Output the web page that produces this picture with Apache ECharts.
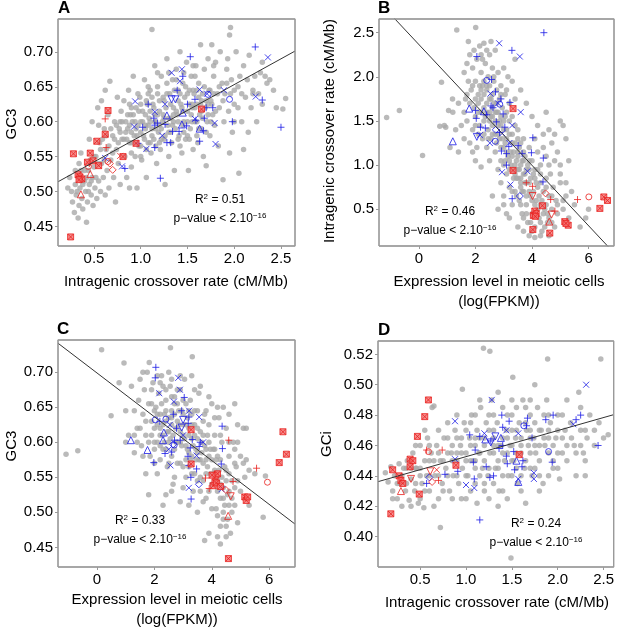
<!DOCTYPE html>
<html>
<head>
<meta charset="utf-8">
<script src="https://cdn.jsdelivr.net/npm/echarts@6/dist/echarts.min.js"></script>
<style>
  html, body { margin: 0; padding: 0; background: #fff; }
  #chart { width: 617px; height: 627px; }
</style>
</head>
<body>
<div id="chart"></div>
<script>
// ---- data ----
// panel A: crossover rate vs GC3
const aXRange = [0.115, 2.65];
const aYRange = [0.422, 0.747];
const aXTicks = [0.5, 1.0, 1.5, 2.0, 2.5];
const aYTicks = [0.45, 0.50, 0.55, 0.60, 0.65, 0.70];
const aFit = [0.5055, 0.0738]; // intercept, slope
const aGray = [
  [0.22,0.505],[0.24,0.52],[0.26,0.50],[0.27,0.485],[0.29,0.47],[0.30,0.51],[0.31,0.495],[0.33,0.462],[0.34,0.48],[0.35,0.505],
  [0.36,0.53],[0.37,0.49],[0.38,0.475],[0.40,0.515],[0.41,0.50],[0.42,0.456],[0.43,0.485],[0.44,0.53],[0.45,0.51],[0.46,0.545],
  [0.47,0.495],[0.48,0.52],[0.49,0.48],[0.50,0.535],[0.51,0.505],[0.52,0.55],[0.53,0.49],[0.54,0.62],[0.55,0.515],[0.56,0.57],
  [0.57,0.50],[0.58,0.54],[0.60,0.52],[0.61,0.59],[0.62,0.495],[0.63,0.56],[0.64,0.53],[0.65,0.61],[0.66,0.505],[0.67,0.658],
  [0.68,0.545],[0.70,0.58],[0.71,0.52],[0.72,0.60],[0.73,0.485],[0.74,0.56],[0.75,0.635],[0.76,0.54],[0.77,0.59],[0.78,0.51],
  [0.79,0.615],[0.80,0.575],[0.36,0.555],[0.45,0.575],[0.48,0.60],[0.55,0.595],[0.58,0.63],[0.62,0.645],
  [0.82,0.63],[0.83,0.55],[0.84,0.60],[0.85,0.52],[0.86,0.59],[0.87,0.645],[0.88,0.57],[0.89,0.61],[0.90,0.535],[0.91,0.60],
  [0.92,0.665],[0.93,0.58],[0.94,0.55],[0.95,0.62],[0.96,0.505],[0.97,0.595],[0.98,0.565],[0.99,0.635],[1.00,0.60],[1.01,0.545],
  [1.02,0.615],[1.03,0.58],[1.04,0.66],[1.05,0.59],[1.06,0.52],[1.07,0.625],[1.08,0.57],[1.09,0.605],[1.10,0.645],[1.11,0.555],
  [1.12,0.732],[1.12,0.59],[1.13,0.625],[1.14,0.575],[1.15,0.68],[1.16,0.60],[1.17,0.54],[1.18,0.64],[1.19,0.585],[1.20,0.615],
  [1.21,0.56],[1.22,0.665],[1.23,0.60],[1.24,0.635],[1.25,0.575],[1.26,0.51],[1.27,0.62],[1.28,0.69],[1.29,0.595],[1.30,0.55],
  [0.85,0.575],[0.90,0.585],[0.95,0.57],[1.00,0.625],[1.05,0.61],[1.10,0.60],[1.15,0.61],[1.20,0.595],[1.25,0.63],[0.90,0.62],
  [0.97,0.64],[1.08,0.65],[1.18,0.67],[1.28,0.655],[1.06,0.56],[1.16,0.565],[1.22,0.575],[0.88,0.505],[1.00,0.565],[1.12,0.635],
  [1.31,0.64],[1.32,0.605],[1.33,0.57],[1.34,0.66],[1.35,0.62],[1.36,0.53],[1.37,0.59],[1.38,0.675],[1.39,0.61],[1.40,0.645],
  [1.41,0.58],[1.42,0.70],[1.43,0.625],[1.44,0.555],[1.45,0.655],[1.46,0.60],[1.47,0.635],[1.48,0.575],[1.49,0.685],[1.50,0.615],
  [1.51,0.53],[1.52,0.645],[1.53,0.59],[1.54,0.665],[1.55,0.62],[1.56,0.56],[1.57,0.64],[1.58,0.60],[1.59,0.68],[1.60,0.625],
  [1.61,0.57],[1.62,0.655],[1.63,0.61],[1.64,0.71],[1.65,0.59],[1.66,0.64],[1.67,0.55],[1.68,0.675],[1.69,0.62],[1.70,0.537],
  [1.71,0.60],[1.72,0.69],[1.73,0.645],[1.74,0.58],[1.75,0.63],[1.76,0.71],[1.77,0.61],[1.78,0.665],[1.79,0.595],[1.80,0.685],
  [1.82,0.64],[1.83,0.565],[1.84,0.62],[1.85,0.70],[1.87,0.655],[1.88,0.517],[1.89,0.60],[1.35,0.60],[1.45,0.595],[1.55,0.60],
  [1.65,0.615],[1.40,0.63],[1.50,0.64],[1.60,0.645],[1.32,0.585],[1.42,0.565],[1.52,0.575],[1.62,0.59],[1.72,0.625],[1.46,0.67],
  [1.56,0.68],[1.30,0.67],
  [1.90,0.64],[1.92,0.675],[1.94,0.615],[1.95,0.724],[1.96,0.735],[1.97,0.66],[1.98,0.585],[2.00,0.645],[2.02,0.70],[2.04,0.62],
  [2.05,0.526],[2.06,0.665],[2.08,0.60],[2.10,0.68],[2.12,0.635],[2.14,0.66],[2.16,0.695],[2.18,0.62],[2.20,0.645],[2.22,0.665],
  [2.24,0.60],[2.26,0.64],[2.28,0.67],[2.30,0.625],[2.33,0.665],[2.35,0.655],[2.38,0.66],[2.42,0.645],[2.45,0.62],[2.52,0.618],
  [2.55,0.633],[2.30,0.685],[2.10,0.56],[1.95,0.555],[2.00,0.60],[2.15,0.585],[1.93,0.69],[2.20,0.64],
  [0.30,0.53],[0.32,0.50],[0.34,0.54],[0.38,0.51],[0.40,0.53],[0.42,0.52],[0.44,0.50],[0.47,0.515],[0.50,0.55],[0.52,0.52],
  [0.55,0.54],[0.57,0.56],[0.59,0.575],[0.61,0.545],[0.63,0.58],[0.66,0.565],[0.68,0.59],[0.70,0.555],[0.72,0.575],[0.74,0.595],
  [0.76,0.57],[0.78,0.585],[0.80,0.60],[0.82,0.575],[0.84,0.585],[0.86,0.61],[0.88,0.595],[0.90,0.57],[0.92,0.61],[0.94,0.60],
  [0.96,0.58],[0.98,0.615],[1.00,0.585],[1.02,0.60],[1.04,0.575],[1.06,0.63],[1.08,0.595],[1.10,0.615],[1.12,0.58],[1.14,0.62],
  [1.16,0.59],[1.18,0.61],[1.20,0.63],[1.22,0.59],[1.24,0.61],[1.26,0.58],[1.28,0.64],[1.30,0.605],[1.32,0.625],[1.34,0.595],
  [1.36,0.645],[1.38,0.615],[1.40,0.60],[1.42,0.64],[1.44,0.62],[1.46,0.585],[1.48,0.65],[1.50,0.60],[1.52,0.625],[1.54,0.61],
  [1.56,0.645],[1.58,0.62],[1.60,0.60],[1.62,0.635],[1.64,0.625],[1.66,0.605],[1.68,0.65],[1.70,0.63],[1.72,0.61],[1.74,0.645],
  [1.76,0.625],[1.78,0.64],[1.80,0.615],[1.84,0.65],[1.88,0.63],[1.92,0.655],[1.96,0.64],[2.00,0.625],[2.04,0.65],[2.08,0.64],
  [0.95,0.59],[1.05,0.595],[1.15,0.60],[1.25,0.605],[1.35,0.61],[1.45,0.615],[1.55,0.625],[1.65,0.63],[1.75,0.60],[0.90,0.555],
  [1.00,0.55],[1.10,0.57],[1.20,0.57],[1.30,0.585],[1.40,0.575],[1.50,0.58],[1.60,0.58],[1.70,0.585],[1.18,0.65],[1.38,0.66],
  [1.58,0.665],[1.78,0.68],[1.08,0.64],[0.88,0.625],[0.78,0.60]
];
const aBlue = [
  [1.53,0.693,'p'],[2.225,0.707,'p'],[1.45,0.665,'p'],[1.39,0.645,'p'],[1.08,0.625,'p'],[1.58,0.632,'p'],[1.50,0.625,'p'],[1.70,0.62,'p'],
  [1.77,0.62,'p'],[2.30,0.631,'p'],[1.98,0.60,'p'],[1.68,0.605,'p'],[1.59,0.602,'p'],[2.50,0.592,'p'],[1.14,0.605,'p'],[1.15,0.595,'p'],
  [1.02,0.592,'p'],[1.26,0.596,'p'],[1.34,0.586,'p'],[1.41,0.586,'p'],[1.49,0.594,'p'],[1.63,0.572,'p'],[1.28,0.57,'p'],[1.32,0.57,'p'],
  [1.15,0.563,'p'],[0.97,0.569,'p'],[0.83,0.533,'p'],[1.21,0.519,'p'],[1.67,0.587,'p'],[1.18,0.598,'p'],
  [1.33,0.670,'x'],[1.44,0.675,'x'],[1.42,0.658,'x'],[0.94,0.629,'x'],[1.26,0.625,'x'],[1.63,0.646,'x'],[1.71,0.64,'x'],[1.89,0.645,'x'],
  [2.36,0.692,'x'],[2.23,0.636,'x'],[1.80,0.568,'x'],[1.58,0.604,'x'],[0.93,0.593,'x'],[1.06,0.561,'x'],[1.23,0.58,'x'],[0.80,0.536,'x'],
  [1.79,0.598,'x'],[1.15,0.614,'x'],[0.62,0.548,'x'],
  [1.28,0.609,'u'],[1.44,0.596,'u'],[1.63,0.59,'u'],[1.45,0.613,'u'],
  [1.33,0.632,'d'],[1.37,0.632,'d'],
  [1.72,0.639,'o'],[1.95,0.632,'o']
];
const aRed = [
  [0.25,0.435,'s'],[0.28,0.554,'s'],[0.65,0.616,'s'],[0.62,0.582,'s'],[0.53,0.572,'s'],[0.46,0.555,'s'],[0.43,0.542,'s'],[0.49,0.544,'s'],
  [0.55,0.537,'s'],[0.33,0.524,'s'],[0.35,0.521,'s'],[0.37,0.518,'s'],[0.34,0.517,'s'],[0.95,0.569,'s'],[1.65,0.618,'s'],[0.81,0.55,'s'],
  [0.62,0.604,'p'],[0.63,0.563,'p'],[0.45,0.54,'p'],
  [0.78,0.551,'x'],
  [0.36,0.496,'u'],[0.46,0.525,'u'],
  [0.44,0.536,'o'],[0.65,0.543,'o'],
  [0.70,0.531,'v'],[0.67,0.54,'v']
];

// panel B: expression vs crossover rate
const bXRange = [-1.41, 6.9];
const bYRange = [0.084, 2.655];
const bXTicks = [0, 2, 4, 6];
const bYTicks = [0.5, 1.0, 1.5, 2.0, 2.5];
const bFit = [2.366, -0.342];
const bGray = [
  [-1.14,1.54],[-0.69,1.62],[0.13,1.11],[0.74,1.44],[0.95,1.43],[0.80,1.94],[1.34,2.53],[2.01,2.56],[1.19,1.75],[1.05,1.62],
  [1.6,2.05],[1.7,2.15],[1.75,1.95],[1.8,2.25],[1.85,1.85],[1.9,2.1],[1.95,2.3],[2.0,1.95],[2.05,2.2],[2.1,1.8],
  [2.15,2.35],[2.2,2.05],[2.25,1.9],[2.3,2.38],[2.35,2.15],[2.4,1.85],[2.45,2.0],[2.5,2.25],[2.55,1.75],[2.6,2.1],
  [2.65,1.95],[2.7,2.3],[2.75,1.85],[2.8,2.05],[2.9,1.9],[3.0,2.1],[3.05,1.8],[3.15,2.0],[3.3,1.95],[3.4,2.2],
  [1.65,1.75],[1.8,1.7],[1.95,1.65],[2.1,1.6],[2.2,1.75],[2.3,1.65],[2.4,1.7],[2.5,1.6],[2.6,1.55],[2.65,1.7],
  [2.75,1.6],[2.85,1.75],[2.95,1.65],[3.05,1.55],[3.2,1.7],[3.4,1.75],[3.6,1.85],[3.8,1.7],[4.0,1.55],[4.2,1.45],
  [4.5,1.6],[4.8,1.35],[5.0,1.5],[5.1,1.45],[5.2,1.3],
  [1.3,1.4],[1.5,1.45],[1.6,1.3],[1.7,1.5],[1.8,1.25],[1.9,1.4],[2.0,1.55],[2.05,1.2],[2.15,1.45],[2.25,1.3],
  [2.3,1.5],[2.4,1.2],[2.45,1.4],[2.55,1.3],[2.6,1.45],[2.7,1.15],[2.8,1.35],[2.85,1.5],[2.9,1.2],[3.0,1.4],
  [3.05,1.05],[3.1,1.3],[3.2,1.5],[3.25,1.15],[3.3,1.35],[3.4,1.25],[3.45,1.05],[3.5,1.4],[3.55,1.2],[3.6,1.0],
  [3.7,1.3],[3.75,1.1],[3.8,0.95],[3.9,1.2],[4.0,1.05],[4.1,1.3],[4.2,1.15],[4.3,1.0],[4.4,1.2],[4.5,1.1],
  [4.6,1.0],[4.7,1.25],[4.8,1.05],[5.0,1.0],[5.3,1.05],[2.0,1.05],[2.2,0.98],[2.5,1.05],[1.4,1.15],[1.1,1.2],
  [0.9,1.45],[1.2,1.6],[1.4,1.7],
  [2.8,0.95],[2.9,0.8],[3.0,0.65],[3.1,0.9],[3.2,0.75],[3.3,0.55],[3.35,0.85],[3.4,0.7],[3.5,0.95],[3.55,0.6],
  [3.6,0.8],[3.65,0.45],[3.7,0.7],[3.75,0.9],[3.8,0.55],[3.85,0.35],[3.9,0.8],[3.95,0.65],[4.0,0.45],[4.05,0.9],
  [4.1,0.3],[4.15,0.6],[4.2,0.75],[4.25,0.4],[4.3,0.55],[4.35,0.25],[4.4,0.7],[4.45,0.5],[4.5,0.85],[4.55,0.35],
  [4.6,0.65],[4.65,0.9],[4.7,0.5],[4.75,0.75],[4.8,0.3],[4.85,0.6],[4.9,0.45],[5.0,0.8],[5.1,0.5],[5.2,0.65],
  [5.3,0.4],[5.5,0.55],[5.7,0.3],[5.9,0.4],[6.0,0.5],[3.2,0.4],[3.5,0.3],[3.9,0.2],[4.1,0.18],[4.3,0.2],
  [4.0,0.25],[3.7,0.25],[4.6,0.2],[2.6,0.65],[2.8,0.5],[3.0,0.55],[3.1,0.45],
  [3.0,1.0],[3.2,0.95],[3.4,0.9],[3.6,0.85],[3.8,0.8],[3.3,1.1],[3.5,1.15],[3.7,1.05],[3.9,0.95],[4.1,0.85],
  [4.3,0.8],[3.1,1.15],[2.9,1.05],[3.6,1.25],[2.7,1.35],[2.5,1.5],[2.35,1.55],[2.2,1.6],[2.8,1.6],[2.6,1.8],
  [2.4,1.9],[2.9,1.45],[3.1,1.6],[2.75,1.25],
  [2.0,1.75],[2.1,1.7],[2.2,1.85],[2.3,1.8],[2.4,1.6],[2.5,1.75],[2.55,1.55],[2.6,1.65],[2.7,1.5],[2.75,1.7],
  [2.8,1.45],[2.9,1.55],[2.95,1.3],[3.0,1.5],[3.05,1.25],[3.1,1.4],[3.15,1.1],[3.2,1.35],[3.25,1.0],[3.3,1.25],
  [3.35,1.15],[3.4,1.0],[3.45,0.85],[3.5,1.1],[3.55,0.95],[3.6,0.75],[3.65,1.05],[3.7,0.9],[3.75,0.8],[3.8,0.65],
  [3.85,1.0],[3.9,0.7],[3.95,0.85],[4.0,0.6],[4.05,0.7],[4.1,0.55],[4.15,0.8],[4.2,0.5],[4.25,0.65],[4.3,0.35],
  [4.35,0.6],[4.4,0.45],[4.45,0.3],[4.5,0.55],[4.55,0.45],[4.6,0.4],[4.7,0.35],[3.3,0.7],[3.45,0.65],[3.6,0.55],
  [3.7,0.4],[3.8,0.45],[3.95,0.35],[2.3,1.35],[2.45,1.3],[2.6,1.35],[2.7,1.6],[2.85,1.3],[3.0,1.2],[2.5,1.9],
  [2.3,1.95],[2.15,1.9],[2.65,2.0],[2.9,1.8],[3.1,1.85],[3.3,1.55],[3.4,1.45],[3.5,1.3],[3.7,1.15],[3.9,1.05],
  [4.1,0.95],[4.3,0.9],[4.5,0.75],[4.7,0.65],[4.9,0.55],[5.1,0.6],[5.2,0.8],[5.4,0.7],[5.0,0.9],[4.9,1.15],
  [1.9,1.9],[1.7,1.8],[1.6,1.6],[2.0,1.45],[2.1,1.35],[1.9,1.15],[3.2,1.05],[3.35,0.95],[3.5,0.85],[3.65,0.7],
  [4.2,0.95],[4.4,1.35],[4.6,1.4],[2.2,2.25],[2.4,2.3],[2.55,2.4],[1.75,2.4],[2.25,2.2]
];
const bBlue = [
  [4.42,2.50,'p'],[3.29,2.30,'p'],[2.05,2.23,'p'],[2.57,1.97,'p'],[2.71,1.83,'p'],[2.55,1.67,'p'],[2.90,1.75,'p'],[3.22,1.71,'p'],
  [2.0,1.62,'p'],[2.03,1.53,'p'],[2.18,1.43,'p'],[2.35,1.42,'p'],[2.74,1.49,'p'],[2.98,1.58,'p'],[3.04,1.43,'p'],[2.85,1.37,'p'],
  [3.18,1.21,'p'],[2.92,1.16,'p'],[3.1,1.13,'p'],[3.51,1.22,'p'],[3.65,1.13,'p'],[3.98,1.14,'p'],[4.03,1.31,'p'],[4.40,1.08,'p'],
  [4.39,0.81,'p'],[3.30,0.62,'p'],[3.1,1.0,'p'],[2.62,1.65,'p'],[2.4,1.57,'p'],
  [2.84,2.38,'x'],[3.57,2.23,'x'],[2.53,1.81,'x'],[2.80,1.70,'x'],[3.60,1.60,'x'],[2.16,1.34,'x'],[2.51,1.25,'x'],[3.3,1.45,'x'],
  [2.94,0.92,'x'],[3.84,0.93,'x'],[3.24,0.78,'x'],[3.2,1.25,'x'],[2.95,1.36,'x'],
  [1.20,1.27,'u'],[1.78,1.64,'u'],[2.30,1.61,'u'],
  [2.05,1.32,'d'],
  [2.40,1.96,'o'],[2.86,1.69,'o'],[2.7,1.27,'o'],
  [3.57,0.65,'v'],[2.72,1.40,'v']
];
const bRed = [
  [3.33,1.64,'s'],[3.33,0.94,'s'],[4.10,0.48,'s'],[4.05,0.43,'s'],[4.15,0.45,'s'],[4.12,0.42,'s'],[4.63,0.23,'s'],[4.03,0.27,'s'],
  [4.37,0.54,'s'],[5.16,0.36,'s'],[5.28,0.32,'s'],[5.2,0.34,'s'],[6.40,0.51,'s'],[6.54,0.64,'s'],[6.67,0.60,'s'],
  [3.80,0.80,'p'],[4.02,0.76,'p'],[4.66,0.61,'p'],[4.81,0.48,'p'],[5.61,0.61,'p'],
  [4.61,0.36,'u'],
  [4.02,0.65,'d'],[4.69,0.44,'d'],
  [6.01,0.64,'o'],
  [4.48,0.68,'v']
];

// panel C: expression vs GC3
const cXRange = [-1.36, 6.9];
const cYRange = [0.422, 0.746];
const cXTicks = [0, 2, 4, 6];
const cYTicks = [0.45, 0.50, 0.55, 0.60, 0.65, 0.70];
const cFit = [0.6989, -0.03125];
const cGray = [
  [-1.08,0.583],[-0.67,0.588],[0.16,0.732],[0.94,0.713],[0.77,0.685],[1.0,0.645],[0.49,0.638],[1.3,0.61],[2.56,0.735],[3.32,0.722],
  [1.82,0.714],
  [1.2,0.68],[1.3,0.645],[1.4,0.62],[1.45,0.66],[1.5,0.69],[1.55,0.595],[1.6,0.64],[1.65,0.675],[1.7,0.61],[1.75,0.70],
  [1.8,0.655],[1.85,0.58],[1.9,0.63],[1.95,0.685],[2.0,0.60],[2.05,0.65],[2.1,0.555],[2.15,0.67],[2.2,0.62],[2.25,0.695],
  [2.3,0.59],[2.35,0.64],[2.4,0.66],[2.45,0.565],[2.5,0.615],[2.55,0.68],[2.6,0.635],[2.65,0.54],[2.7,0.655],[2.75,0.60],
  [2.8,0.675],[2.85,0.625],[2.9,0.57],[2.95,0.645],[3.0,0.61],[3.05,0.69],[3.1,0.55],[3.15,0.635],[3.2,0.585],[3.25,0.66],
  [3.3,0.605],[3.35,0.53],[3.4,0.645],[3.45,0.575],[3.5,0.62],[3.55,0.67],[3.6,0.55],[3.65,0.60],[3.7,0.515],[3.75,0.64],
  [3.8,0.575],[3.85,0.61],[3.9,0.53],[3.95,0.59],[4.0,0.655],[4.05,0.555],[4.1,0.61],[4.15,0.505],[4.2,0.58],[4.25,0.635],
  [4.3,0.54],[4.35,0.60],[4.4,0.49],[4.45,0.565],[4.5,0.62],[4.55,0.525],[4.6,0.58],[4.65,0.47],[4.7,0.545],[4.75,0.60],
  [4.8,0.51],[4.85,0.565],[4.9,0.485],[5.0,0.53],[5.1,0.62],[5.15,0.55],[5.2,0.575],[5.3,0.51],[5.5,0.555],[5.79,0.493],
  [5.87,0.552],[4.2,0.465],[4.3,0.455],[3.75,0.46],[3.9,0.47],[4.5,0.48],[3.2,0.51],[2.9,0.515],[2.6,0.53],[2.4,0.525],
  [2.3,0.51],[1.8,0.525],[2.0,0.57],[1.7,0.555],[1.6,0.58],[1.3,0.585],[1.1,0.61],[1.0,0.60],
  [2.2,0.64],[2.4,0.63],[2.6,0.645],[2.8,0.63],[3.0,0.625],[3.2,0.62],[2.5,0.60],[2.7,0.59],[2.9,0.60],[3.1,0.595],
  [3.3,0.58],[3.5,0.585],[2.3,0.61],[2.1,0.625],[2.0,0.645],[2.7,0.665],[2.9,0.675],[3.1,0.655],[3.3,0.64],[3.5,0.645],
  [3.7,0.61],[3.9,0.60],[4.1,0.59],[4.3,0.575],[3.6,0.575],[3.8,0.555],[4.0,0.54],[4.2,0.53],[4.4,0.52],[4.6,0.51],
  [4.7,0.50],[4.4,0.50],[4.5,0.545],[3.4,0.555],[3.2,0.565],[3.0,0.565],[2.8,0.57],[2.6,0.58],[2.4,0.59],[2.2,0.595],
  [4.9,0.60],[4.9,0.625],[5.1,0.57],[4.6,0.64],[4.4,0.65],[4.2,0.65],[3.9,0.665],[2.1,0.695],[2.3,0.68],[2.5,0.70],
  [1.9,0.655],[3.3,0.695],[3.6,0.68],[4.8,0.655],[5.2,0.62],[1.5,0.62],[1.4,0.60],
  [2.0,0.62],[2.1,0.64],[2.2,0.61],[2.25,0.655],[2.3,0.625],[2.35,0.60],[2.4,0.645],[2.45,0.615],[2.5,0.635],[2.55,0.605],
  [2.6,0.625],[2.65,0.61],[2.7,0.64],[2.75,0.62],[2.8,0.60],[2.85,0.645],[2.9,0.615],[2.95,0.595],[3.0,0.64],[3.05,0.605],
  [3.1,0.625],[3.15,0.59],[3.2,0.61],[3.25,0.575],[3.3,0.625],[3.35,0.595],[3.4,0.61],[3.45,0.59],[3.5,0.605],[3.55,0.575],
  [3.6,0.615],[3.65,0.585],[3.7,0.57],[3.75,0.595],[3.8,0.59],[3.85,0.565],[3.9,0.58],[3.95,0.555],[4.0,0.575],[4.05,0.59],
  [4.1,0.56],[4.15,0.575],[4.2,0.545],[4.25,0.56],[4.3,0.52],[4.35,0.55],[4.4,0.535],[4.45,0.51],[4.5,0.56],[4.55,0.49],
  [4.6,0.53],[4.7,0.52],[4.8,0.535],[4.9,0.545],[3.6,0.53],[3.8,0.52],[4.0,0.505],[4.2,0.495],[4.3,0.48],[4.5,0.465],
  [3.5,0.50],[3.0,0.535],[2.7,0.55],[2.5,0.57],[2.2,0.575],[2.0,0.59],[1.8,0.60],[1.7,0.63],[1.9,0.675],[2.2,0.685],
  [2.4,0.675],[2.6,0.665],[2.8,0.655],[3.0,0.66],[3.2,0.645],[3.4,0.625],[3.7,0.63],[3.9,0.625],[4.1,0.635],[4.3,0.61],
  [4.6,0.60],[4.8,0.59],[5.0,0.58],[5.3,0.56],[2.6,0.69],[2.9,0.695],[3.4,0.675],[3.8,0.645],[1.6,0.70],[1.9,0.61],
  [2.1,0.60],[3.1,0.575],[3.3,0.555],[3.5,0.545],[3.7,0.545],[4.6,0.555],[4.8,0.57]
];
const cBlue = [
  [2.05,0.707,'p'],[2.03,0.692,'p'],[3.04,0.664,'p'],[2.95,0.645,'p'],[2.66,0.64,'p'],[2.19,0.63,'p'],[3.18,0.627,'p'],[3.2,0.636,'p'],
  [4.36,0.623,'p'],[2.77,0.62,'p'],[3.32,0.604,'p'],[2.9,0.603,'p'],[2.7,0.603,'p'],[3.56,0.594,'p'],[4.37,0.591,'p'],[2.37,0.584,'p'],
  [2.6,0.586,'p'],[3.25,0.592,'p'],[3.17,0.58,'p'],[3.2,0.567,'p'],[1.98,0.571,'p'],[3.47,0.562,'p'],[3.27,0.55,'p'],[4.33,0.569,'p'],
  [3.28,0.519,'p'],[3.6,0.60,'p'],
  [2.83,0.692,'x'],[2.17,0.67,'x'],[2.89,0.675,'x'],[2.68,0.658,'x'],[3.21,0.645,'x'],[3.56,0.636,'x'],[2.54,0.625,'x'],[3.0,0.61,'x'],
  [2.56,0.567,'x'],[3.47,0.581,'x'],[3.7,0.60,'x'],[3.20,0.535,'x'],[4.34,0.533,'x'],[2.5,0.59,'x'],
  [1.18,0.603,'u'],[1.76,0.589,'u'],[2.33,0.614,'u'],[2.3,0.603,'u'],
  [2.95,0.621,'d'],[3.0,0.632,'d'],
  [2.03,0.632,'o'],[2.40,0.633,'o'],[2.69,0.596,'o'],
  [3.55,0.54,'v'],[2.65,0.597,'v']
];
const cRed = [
  [3.28,0.618,'s'],[3.28,0.569,'s'],[4.14,0.553,'s'],[4.2,0.555,'s'],[4.11,0.543,'s'],[4.05,0.538,'s'],[4.16,0.542,'s'],[4.01,0.553,'s'],
  [4.30,0.537,'s'],[5.15,0.522,'s'],[5.2,0.517,'s'],[5.25,0.522,'s'],[4.58,0.434,'s'],[6.35,0.571,'s'],[6.48,0.615,'s'],[6.60,0.583,'s'],
  [4.59,0.603,'p'],[4.74,0.544,'p'],[5.56,0.563,'p'],[3.78,0.549,'p'],[3.91,0.534,'p'],
  [4.57,0.495,'u'],
  [4.66,0.523,'d'],
  [5.94,0.543,'o'],
  [4.49,0.532,'v']
];

// panel D: crossover rate vs GCi
const dXRange = [0.04, 2.61];
const dYRange = [0.380, 0.5288];
const dXTicks = [0.5, 1.0, 1.5, 2.0, 2.5];
const dYTicks = [0.40, 0.42, 0.44, 0.46, 0.48, 0.50, 0.52];
const dFit = [0.4355, 0.01716];
const dGray = [
  [0.12,0.442],[0.15,0.436],[0.18,0.446],[0.20,0.43],[0.22,0.44],[0.25,0.425],[0.27,0.448],[0.28,0.435],[0.30,0.42],[0.32,0.445],
  [0.34,0.43],[0.36,0.45],[0.38,0.424],[0.40,0.438],[0.42,0.455],[0.44,0.43],[0.46,0.445],[0.48,0.422],[0.50,0.46],[0.52,0.435],
  [0.54,0.419],[0.55,0.45],[0.57,0.44],[0.58,0.465],[0.60,0.43],[0.62,0.455],[0.63,0.485],[0.65,0.486],[0.66,0.44],[0.68,0.46],
  [0.70,0.425],[0.72,0.45],[0.72,0.406],[0.74,0.435],[0.76,0.465],[0.78,0.445],[0.80,0.475],[0.82,0.43],[0.84,0.455],[0.86,0.44],
  [0.88,0.47],[0.90,0.45],[0.92,0.435],[0.94,0.46],[0.96,0.497],[0.96,0.445],[0.98,0.475],[1.00,0.455],[1.02,0.44],[1.04,0.465],
  [1.06,0.48],[1.08,0.45],[1.10,0.435],[1.12,0.422],[1.12,0.47],[1.14,0.455],[1.16,0.485],[1.18,0.445],[1.19,0.524],[1.20,0.46],
  [1.22,0.475],[1.24,0.44],[1.26,0.522],[1.26,0.455],[1.28,0.49],[1.30,0.465],[1.32,0.445],[1.34,0.475],[1.36,0.43],[1.38,0.46],
  [1.40,0.485],[1.42,0.45],[1.44,0.47],[1.46,0.44],[1.48,0.46],[1.49,0.386],[1.50,0.48],[1.51,0.505],[1.52,0.45],[1.54,0.465],
  [1.56,0.435],[1.58,0.475],[1.60,0.455],[1.62,0.49],[1.64,0.445],[1.65,0.422],[1.66,0.47],[1.68,0.46],[1.70,0.48],[1.72,0.44],
  [1.74,0.465],[1.76,0.455],[1.78,0.485],[1.80,0.45],[1.82,0.47],[1.84,0.435],[1.86,0.46],[1.88,0.49],[1.89,0.517],[1.90,0.455],
  [1.92,0.475],[1.95,0.445],[1.98,0.465],[2.00,0.48],[2.02,0.438],[2.05,0.455],[2.08,0.47],[2.10,0.45],[2.14,0.475],[2.18,0.46],
  [2.20,0.44],[2.23,0.495],[2.25,0.47],[2.28,0.455],[2.32,0.465],[2.35,0.48],[2.40,0.47],[2.47,0.517],[2.50,0.465],[2.55,0.467],
  [2.30,0.45],[2.10,0.49],
  [0.85,0.46],[0.90,0.465],[0.95,0.455],[1.00,0.47],[1.05,0.45],[1.10,0.46],[1.15,0.465],[1.20,0.45],[1.25,0.47],[1.30,0.455],
  [1.35,0.46],[1.40,0.465],[1.45,0.455],[1.50,0.47],[1.55,0.455],[1.60,0.465],[1.65,0.45],[1.70,0.465],[1.75,0.475],[1.80,0.46],
  [1.00,0.44],[1.10,0.445],[1.20,0.435],[1.30,0.435],[1.40,0.44],[1.50,0.44],[1.60,0.44],[1.70,0.445],[1.80,0.44],[1.90,0.44],
  [0.90,0.48],[1.10,0.48],[1.30,0.48],[1.50,0.49],[1.70,0.49],[1.90,0.48],[2.00,0.47],[0.70,0.47],[0.60,0.45],[0.80,0.455],
  [1.25,0.425],[1.35,0.42],[1.45,0.425],[1.05,0.43],[0.95,0.425],[0.65,0.42],[0.50,0.425],[0.40,0.42],[0.45,0.445],
  [0.30,0.44],[0.35,0.435],[0.40,0.445],[0.45,0.435],[0.50,0.445],[0.55,0.43],[0.60,0.44],[0.65,0.45],[0.70,0.44],[0.75,0.45],
  [0.80,0.44],[0.85,0.45],[0.90,0.44],[0.95,0.465],[1.00,0.45],[1.05,0.46],[1.10,0.45],[1.15,0.455],[1.20,0.465],[1.25,0.445],
  [1.30,0.47],[1.35,0.45],[1.40,0.455],[1.45,0.465],[1.50,0.45],[1.55,0.47],[1.60,0.46],[1.65,0.475],[1.70,0.455],[1.75,0.46],
  [1.80,0.47],[1.85,0.465],[1.90,0.47],[1.95,0.46],[2.00,0.455],[2.05,0.465],[2.10,0.46],[2.15,0.465],[2.20,0.455],[2.25,0.46],
  [2.30,0.47],[2.40,0.46],[2.45,0.475],[0.75,0.43],[0.85,0.425],[1.15,0.44],[1.35,0.445],[1.55,0.445],[1.75,0.445],[1.95,0.45],
  [1.05,0.475],[1.25,0.48],[1.45,0.48],[1.65,0.485],[1.85,0.48],[2.05,0.48],[2.25,0.485],[1.15,0.49],[1.35,0.495],[1.55,0.485],
  [1.75,0.50],[0.80,0.465],[0.60,0.46],[0.50,0.44],[0.35,0.445],[0.25,0.435],[0.20,0.425],[1.00,0.425],[1.20,0.43],[1.40,0.43],
  [1.60,0.43],[1.80,0.43],[2.00,0.445],[2.30,0.44],[0.55,0.47],[0.45,0.46],[0.70,0.455],[0.90,0.455],[1.10,0.465],[1.30,0.46],
  [1.50,0.46],[1.70,0.47],[1.90,0.465]
];
const dBlue = [
  [2.44,0.46,'p'],[2.25,0.48,'p'],[2.2,0.477,'p'],[1.95,0.480,'p'],[1.87,0.477,'p'],[1.67,0.478,'p'],[1.47,0.476,'p'],[1.39,0.48,'p'],
  [1.40,0.472,'p'],[1.72,0.465,'p'],[1.66,0.473,'p'],[1.4,0.46,'p'],[1.27,0.463,'p'],[1.10,0.457,'p'],[1.04,0.467,'p'],[1.15,0.466,'p'],
  [0.91,0.443,'p'],[0.77,0.441,'p'],[0.57,0.435,'p'],[1.08,0.449,'p'],[1.22,0.446,'p'],[1.26,0.439,'p'],[1.30,0.44,'p'],[1.09,0.438,'p'],
  [1.44,0.453,'p'],[1.45,0.448,'p'],[1.53,0.444,'p'],[1.61,0.446,'p'],[1.52,0.456,'p'],[1.62,0.45,'p'],[1.94,0.449,'p'],[1.15,0.411,'p'],
  [1.36,0.458,'p'],
  [2.31,0.50,'x'],[1.28,0.49,'x'],[0.88,0.476,'x'],[1.44,0.47,'x'],[2.17,0.474,'x'],[1.57,0.468,'x'],[1.20,0.468,'x'],[1.00,0.434,'x'],
  [1.09,0.432,'x'],[1.74,0.442,'x'],[1.74,0.438,'x'],[0.88,0.451,'x'],[1.57,0.438,'x'],
  [1.38,0.465,'u'],[1.21,0.464,'u'],[1.55,0.45,'u'],[1.57,0.436,'u'],
  [1.32,0.466,'d'],[1.27,0.462,'d'],
  [1.90,0.456,'o'],[1.63,0.473,'o'],
  [0.60,0.439,'v']
];
const dRed = [
  [0.59,0.49,'s'],[0.55,0.479,'s'],[0.47,0.466,'s'],[0.39,0.451,'s'],[0.42,0.450,'s'],[0.39,0.446,'s'],[0.20,0.444,'s'],[0.27,0.440,'s'],
  [0.29,0.437,'s'],[0.31,0.435,'s'],[0.18,0.415,'s'],[0.49,0.428,'s'],[0.89,0.447,'s'],[1.58,0.454,'s'],
  [0.74,0.457,'p'],[0.57,0.457,'p'],[0.70,0.437,'p'],
  [0.68,0.444,'x'],
  [0.29,0.430,'u'],
  [0.40,0.438,'d'],[0.61,0.443,'d'],
  [0.59,0.456,'o'],
  [0.63,0.436,'v']
];

// ---- chart ----
const FONT = '"Liberation Sans", Arial, Helvetica, sans-serif';
const GRAY = '#a9a9a9';
const BLUE = '#1c1ce6';
const RED = '#e8201e';
const FRAME = '#9a9a9a';

const SHAPES = {
  p: 'path://M0,5L10,5M5,0L5,10',
  x: 'path://M0,0L10,10M10,0L0,10',
  u: 'path://M5,0L10,9L0,9Z',
  d: 'path://M0,0L10,0L5,9Z',
  o: 'circle',
  v: 'diamond',
  s: 'path://M0,0L10,0L10,10L0,10ZM0,0L10,10M10,0L0,10'
};
const SIZES = { p: 7, x: 6, u: 7, d: 7, o: 6, v: 7, s: 6 };

const panels = [
  { gray: aGray, blue: aBlue, red: aRed, fit: aFit, xr: aXRange, yr: aYRange, xt: aXTicks, yt: aYTicks, xd: 1, yd: 2,
    grid: { left: 58, top: 19, width: 237, height: 227 } },
  { gray: bGray, blue: bBlue, red: bRed, fit: bFit, xr: bXRange, yr: bYRange, xt: bXTicks, yt: bYTicks, xd: 0, yd: 1,
    grid: { left: 379, top: 19, width: 235, height: 227 } },
  { gray: cGray, blue: cBlue, red: cRed, fit: cFit, xr: cXRange, yr: cYRange, xt: cXTicks, yt: cYTicks, xd: 0, yd: 2,
    grid: { left: 58, top: 340, width: 237, height: 227 } },
  { gray: dGray, blue: dBlue, red: dRed, fit: dFit, xr: dXRange, yr: dYRange, xt: dXTicks, yt: dYTicks, xd: 1, yd: 2,
    grid: { left: 378, top: 341, width: 236, height: 226 } }
];

const grids = [], xAxes = [], yAxes = [], series = [];

function axis(i, range, ticks, dec) {
  return {
    gridIndex: i, type: 'value', min: range[0], max: range[1],
    axisLine: { show: false, onZero: false },
    splitLine: { show: false },
    axisTick: { show: true, length: 3, lineStyle: { color: FRAME }, customValues: ticks },
    axisLabel: { customValues: ticks, formatter: v => v.toFixed(dec), color: '#000', fontSize: 15, fontFamily: FONT, margin: 5 }
  };
}

function markerSeries(i, pts, color) {
  const out = [];
  Object.keys(SHAPES).forEach(k => {
    const data = pts.filter(d => d[2] === k).map(d => [d[0], d[1]]);
    if (!data.length) return;
    out.push({
      type: 'scatter', xAxisIndex: i, yAxisIndex: i, data: data, silent: true, z: 3,
      symbol: SHAPES[k], symbolSize: SIZES[k],
      itemStyle: k === 's'
        ? { color: '#f27070', borderColor: color, borderWidth: 1 }
        : { color: 'transparent', borderColor: color, borderWidth: 1 }
    });
  });
  return out;
}

panels.forEach((p, i) => {
  grids.push(Object.assign({ show: true, borderColor: FRAME, borderWidth: 1 }, p.grid));
  xAxes.push(axis(i, p.xr, p.xt, p.xd));
  yAxes.push(axis(i, p.yr, p.yt, p.yd));
  // light frame around the plot region, traced along the axis limits
  const x0 = p.xr[0], x1 = p.xr[1], y0 = p.yr[0], y1 = p.yr[1];
  series.push({
    type: 'line', xAxisIndex: i, yAxisIndex: i, silent: true, z: 6, clip: false,
    symbol: 'none', lineStyle: { color: FRAME, width: 1.3 },
    data: [[x0, y0], [x1, y0], [x1, y1], [x0, y1], [x0, y0]]
  });
  series.push({
    type: 'scatter', xAxisIndex: i, yAxisIndex: i, data: p.gray, silent: true, z: 2,
    symbol: 'circle', symbolSize: 5.5, itemStyle: { color: GRAY }
  });
  series.push(...markerSeries(i, p.blue, BLUE));
  series.push(...markerSeries(i, p.red, RED));
  const a = p.fit[0], b = p.fit[1];
  series.push({
    type: 'line', xAxisIndex: i, yAxisIndex: i, silent: true, z: 5, clip: true,
    symbol: 'none', lineStyle: { color: '#333', width: 1 },
    data: [[x0, a + b * x0], [x1, a + b * x1]]
  });
});

// text: letters, axis titles, fit statistics
function txt(x, y, text, opt) {
  return {
    type: 'text', x: x, y: y, silent: true,
    style: Object.assign({ text: text, fill: '#000', font: '15px ' + FONT, align: 'center', verticalAlign: 'middle' }, opt || {})
  };
}
function rotTxt(x, y, text) {
  const t = txt(x, y, text);
  t.rotation = Math.PI / 2;
  return t;
}
function stat(x, y, r2) {
  const rich = {
    a: { fontSize: 12, fontFamily: FONT, lineHeight: 14 },
    s: { fontSize: 8, fontFamily: FONT, lineHeight: 14, verticalAlign: 'top', padding: [0, 0, 6, 0] }
  };
  return [
    { type: 'text', x: x, y: y, silent: true,
      style: { text: '{a|R}{s|2}{a| = ' + r2 + '}', rich: rich, fill: '#000', align: 'center', verticalAlign: 'middle' } },
    { type: 'text', x: x, y: y + 19, silent: true,
      style: { text: '{a|p\u2212value < 2.10}{s|\u221216}', rich: rich, fill: '#000', align: 'center', verticalAlign: 'middle' } }
  ];
}
const letterStyle = { font: 'bold 17px ' + FONT, align: 'left' };

const graphic = [
  txt(58, 8, 'A', letterStyle), txt(378, 8, 'B', letterStyle),
  txt(57, 329, 'C', letterStyle), txt(378, 330, 'D', letterStyle),
  txt(176, 282, 'Intragenic crossover rate (cM/Mb)'),
  rotTxt(12, 124, 'GC3'),
  txt(499, 292, 'Expression level in meiotic cells\n(log(FPKM))', { lineHeight: 20 }),
  rotTxt(330, 131, 'Intragenic crossover rate (cM/Mb)'),
  txt(177, 610, 'Expression level in meiotic cells\n(log(FPKM))', { lineHeight: 20 }),
  rotTxt(12, 446, 'GC3'),
  txt(497, 603, 'Intragenic crossover rate (cM/Mb)'),
  rotTxt(327, 444, 'GCi'),
  ...stat(220, 200, '0.51'),
  ...stat(450, 212, '0.46'),
  ...stat(140, 521, '0.33'),
  ...stat(536, 524, '0.24')
];

const chart = echarts.init(document.getElementById('chart'), null, { renderer: 'canvas' });
chart.setOption({
  backgroundColor: '#fff',
  animation: false,
  grid: grids,
  xAxis: xAxes,
  yAxis: yAxes,
  series: series,
  graphic: graphic
});
</script>
</body>
</html>
